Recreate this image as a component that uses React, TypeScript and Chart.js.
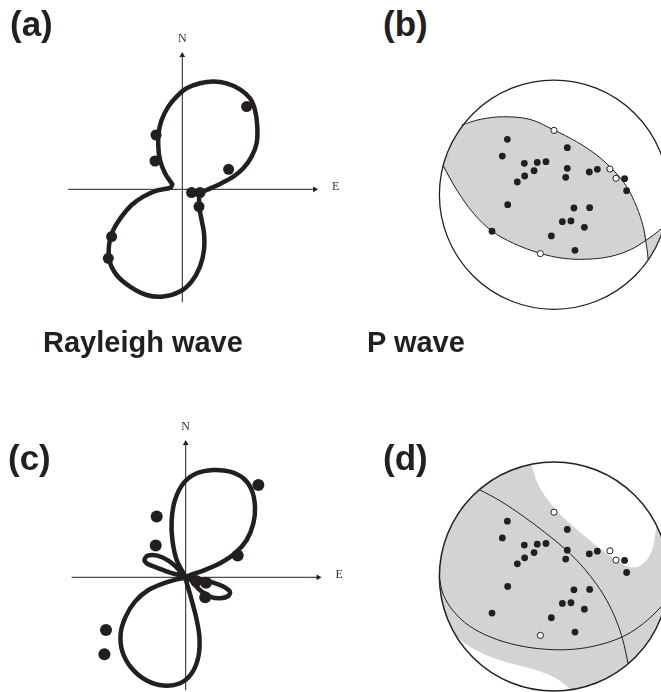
import React, { useEffect, useRef } from 'react';
import { Chart, registerables } from 'chart.js';

Chart.register(...registerables);

const INK = '#231f20';
const SHADE = '#d1d3d4';

type Pt = [number, number];

// ---------------- DATA ----------------
// (a) Rayleigh-wave radiation pattern, model 1 (East, North; normalised amplitude)
const rayleighModelA: Pt[] = [
  [-0.10, 0.05], [-0.173, 0.16], [-0.223, 0.293], [-0.24, 0.427], [-0.237, 0.56], [-0.207, 0.693],
  [-0.14, 0.827], [-0.057, 0.927], [0.043, 1.01], [0.177, 1.06], [0.31, 1.077], [0.443, 1.06],
  [0.577, 1.0], [0.677, 0.91], [0.727, 0.793], [0.75, 0.627], [0.743, 0.46], [0.693, 0.327],
  [0.61, 0.21], [0.51, 0.127], [0.377, 0.053], [0.243, -0.007], [0.177, -0.04], [0.17, -0.173],
  [0.193, -0.307], [0.217, -0.44], [0.217, -0.607], [0.177, -0.773], [0.093, -0.923], [-0.023, -1.023],
  [-0.19, -1.073], [-0.357, -1.057], [-0.523, -0.973], [-0.657, -0.857], [-0.73, -0.707], [-0.73, -0.54],
  [-0.69, -0.407], [-0.607, -0.273], [-0.507, -0.157], [-0.39, -0.073], [-0.257, -0.013], [-0.117, 0.017],
  [-0.10, 0.05],
];
const rayleighObsA: Pt[] = [
  [0.643, 0.827], [-0.263, 0.543], [-0.273, 0.283], [0.463, 0.20], [0.093, -0.033],
  [0.177, -0.033], [0.167, -0.173], [-0.707, -0.473], [-0.74, -0.69],
];

// (c) Rayleigh-wave radiation pattern, model 2
const rayleighModelC: Pt[] = [
  [0, 0],
  [-0.09, 0.173], [-0.133, 0.373], [-0.14, 0.573], [-0.107, 0.773], [-0.023, 0.94], [0.11, 1.04],
  [0.277, 1.073], [0.443, 1.057], [0.577, 0.99], [0.66, 0.873], [0.693, 0.707], [0.677, 0.54],
  [0.61, 0.373], [0.493, 0.24], [0.343, 0.14], [0.177, 0.067], [0.043, 0.023],
  [0, 0],
  [0.077, -0.01], [0.176, -0.027], [0.276, -0.053], [0.376, -0.093], [0.443, -0.144], [0.426, -0.187],
  [0.343, -0.21], [0.243, -0.193], [0.16, -0.143], [0.093, -0.077], [0.043, -0.02],
  [0, 0],
  [0.05, -0.193], [0.103, -0.393], [0.137, -0.593], [0.127, -0.793], [0.06, -0.96], [-0.057, -1.06],
  [-0.223, -1.083], [-0.39, -1.033], [-0.54, -0.91], [-0.633, -0.743], [-0.65, -0.56], [-0.60, -0.393],
  [-0.507, -0.243], [-0.373, -0.127], [-0.223, -0.06], [-0.09, -0.02],
  [0, 0],
  [-0.157, 0.047], [-0.29, 0.097], [-0.38, 0.133], [-0.413, 0.173], [-0.38, 0.217], [-0.283, 0.217],
  [-0.173, 0.167], [-0.083, 0.09], [-0.03, 0.02],
  [0, 0],
];
const rayleighObsC: Pt[] = [
  [0.727, 0.923], [-0.29, 0.607], [-0.30, 0.317], [0.52, 0.217], [0.104, -0.037],
  [0.203, -0.055], [0.195, -0.20], [-0.797, -0.527], [-0.813, -0.77],
];

// (b),(d) P-wave first motions on the focal sphere (unit radius)
const pCompression: Pt[] = [
  [-0.407, 0.483], [-0.451, 0.337], [-0.259, 0.274], [-0.146, 0.282], [-0.070, 0.288], [0.116, 0.410],
  [0.116, 0.230], [0.102, 0.152], [-0.174, 0.209], [-0.256, 0.163], [-0.320, 0.111], [0.308, 0.198],
  [0.378, 0.221], [0.616, 0.140], [0.634, 0.035], [-0.404, -0.087], [0.174, -0.116], [0.311, -0.113],
  [0.073, -0.235], [0.148, -0.229], [0.265, -0.285], [-0.023, -0.360], [0.183, -0.485], [-0.541, -0.319],
];
const pDilatation: Pt[] = [[0.0, 0.561], [0.488, 0.224], [0.541, 0.143], [-0.119, -0.514]];

// (b) nodal planes
const planeB1: Pt[] = [
  [-0.805, 0.608], [-0.645, 0.657], [-0.442, 0.680], [-0.209, 0.657], [0.0, 0.564], [0.198, 0.462],
  [0.372, 0.346], [0.517, 0.215], [0.634, 0.070], [0.721, -0.105], [0.779, -0.279], [0.800, -0.400],
  [0.815, -0.500], [0.822, -0.569],
];
const planeB2: Pt[] = [
  [-0.970, 0.259], [-0.848, 0.041], [-0.703, -0.162], [-0.543, -0.316], [-0.355, -0.424], [-0.122, -0.511],
  [0.081, -0.555], [0.285, -0.563], [0.488, -0.540], [0.663, -0.482], [0.800, -0.400], [0.924, -0.308],
  [0.965, -0.262],
];
const rimB1: Pt[] = [[-0.912, 0.399], [-0.860, 0.503]];
const rimB2: Pt[] = [[0.930, -0.359], [0.892, -0.445], [0.852, -0.518]];

// (d) nodal planes and dilatational (white) regions
const planeD1: Pt[] = [
  [-0.655, 0.760], [-0.47, 0.66], [-0.26, 0.52], [-0.08, 0.385], [0.08, 0.255], [0.21, 0.13],
  [0.32, 0.0], [0.42, -0.14], [0.50, -0.285], [0.565, -0.44], [0.61, -0.59], [0.645, -0.755],
];
const planeD2: Pt[] = [
  [-1.0, -0.016], [-0.965, -0.16], [-0.88, -0.30], [-0.74, -0.43], [-0.55, -0.53], [-0.32, -0.60],
  [-0.07, -0.635], [0.17, -0.635], [0.40, -0.595], [0.61, -0.52], [0.78, -0.41], [0.925, -0.275],
  [0.975, -0.215],
];
const dilatationD1: Pt[] = [
  [-0.232, 1.004], [0.0, 1.03], [0.267, 0.995], [0.515, 0.892], [0.728, 0.728], [0.892, 0.515],
  [0.882, 0.362], [0.856, 0.232], [0.803, 0.135], [0.725, 0.083], [0.629, 0.092], [0.515, 0.162],
  [0.384, 0.258], [0.245, 0.371], [0.114, 0.485], [0.009, 0.590], [-0.079, 0.703], [-0.148, 0.825],
  [-0.183, 0.930], [-0.205, 1.0], [-0.232, 1.004],
];
const dilatationD2: Pt[] = [
  [-0.850, -0.526], [-0.734, -0.613], [-0.559, -0.700], [-0.355, -0.764], [-0.151, -0.817],
  [-0.006, -0.875], [0.081, -0.933], [0.140, -0.985], [0.143, -1.03], [-0.090, -1.03],
  [-0.352, -0.968], [-0.591, -0.844], [-0.789, -0.662], [-0.89, -0.535], [-0.850, -0.526],
];

// axis extents of the polar plots
const axisEast: Pt = [-1.14, 1.325];
const axisNorth: Pt = [-1.13, 1.34];

// ---------------- LAYOUT ----------------
type Panel = { left: number; top: number; width: number; height: number; ox: number; oy: number; unit: number };
const BALL_PX = 114.6;
const panelA: Panel = { left: 40, top: 20, width: 305, height: 300, ox: 182.3, oy: 189.3, unit: 100 };
const panelB: Panel = { left: 420, top: 60, width: 241, height: 270, ox: 554, oy: 194.7, unit: BALL_PX };
const panelC: Panel = { left: 40, top: 405, width: 305, height: 287, ox: 185.7, oy: 577.3, unit: 100 };
const panelD: Panel = { left: 420, top: 445, width: 241, height: 247, ox: 554, oy: 576.5, unit: BALL_PX };

const xy = (pts: Pt[]) => pts.map(([x, y]) => ({ x, y }));

function baseOptions(p: Panel): any {
  return {
    responsive: false,
    animation: false,
    events: [],
    layout: { padding: 0, autoPadding: false },
    scales: {
      x: { type: 'linear', display: false, min: (p.left - p.ox) / p.unit, max: (p.left + p.width - p.ox) / p.unit },
      y: { type: 'linear', display: false, min: (p.oy - (p.top + p.height)) / p.unit, max: (p.oy - p.top) / p.unit },
    },
    plugins: { legend: { display: false }, tooltip: { enabled: false }, title: { display: false } },
  };
}

function polarConfig(p: Panel, model: Pt[], obs: Pt[], dotR: number): any {
  return {
    type: 'scatter',
    data: {
      datasets: [
        {
          label: 'model', data: xy(model), showLine: true, borderColor: INK, borderWidth: 4.5,
          borderCapStyle: 'round', borderJoinStyle: 'round', tension: 0.3, pointRadius: 0, fill: false, order: 3,
        },
        {
          label: 'observed', data: xy(obs), showLine: false, pointRadius: dotR,
          pointBackgroundColor: INK, pointBorderWidth: 0, order: 1,
        },
        {
          label: 'E', data: [{ x: axisEast[0], y: 0 }, { x: axisEast[1], y: 0 }], showLine: true,
          borderColor: INK, borderWidth: 1, pointRadius: [0, 3.3], pointStyle: 'triangle', pointRotation: [0, 90],
          pointBackgroundColor: INK, pointBorderWidth: 0, fill: false, order: 5,
        },
        {
          label: 'N', data: [{ x: 0, y: axisNorth[0] }, { x: 0, y: axisNorth[1] }], showLine: true,
          borderColor: INK, borderWidth: 1, pointRadius: [0, 3.3], pointStyle: 'triangle', pointRotation: [0, 0],
          pointBackgroundColor: INK, pointBorderWidth: 0, fill: false, order: 5,
        },
      ],
    },
    options: baseOptions(p),
  };
}

const region = (label: string, pts: Pt[], color: string, order: number) => ({
  label, data: xy(pts), showLine: true, fill: 'shape', backgroundColor: color,
  borderColor: 'rgba(0,0,0,0)', borderWidth: 0, pointRadius: 0, tension: 0.3, order,
});
const plane = (label: string, pts: Pt[]) => ({
  label, data: xy(pts), showLine: true, fill: false, borderColor: INK, borderWidth: 1,
  pointRadius: 0, tension: 0.35, order: 6,
});
const sphere = (fillColor: string, lineW: number, order: number) => ({
  label: 'sphere', data: [{ x: 0, y: 0 }], showLine: false, pointRadius: BALL_PX,
  pointBackgroundColor: fillColor, pointBorderColor: INK, pointBorderWidth: lineW, order,
});
const motions = () => [
  {
    label: 'compression', data: xy(pCompression), showLine: false, pointRadius: 3.4,
    pointBackgroundColor: INK, pointBorderWidth: 0, order: 2,
  },
  {
    label: 'dilatation', data: xy(pDilatation), showLine: false, pointRadius: 3.1,
    pointBackgroundColor: '#ffffff', pointBorderColor: INK, pointBorderWidth: 1, order: 1,
  },
];

function ballBConfig(): any {
  const lens = [...planeB1.slice(0, 12), ...planeB2.slice(0, 10).reverse(), ...rimB1, planeB1[0]];
  const wedge = [...planeB2.slice(10), ...rimB2, ...planeB1.slice(11).reverse()];
  return {
    type: 'scatter',
    data: {
      datasets: [
        region('compressional quadrant', lens, SHADE, 10),
        region('compressional quadrant 2', wedge, SHADE, 10),
        plane('nodal plane 1', planeB1),
        plane('nodal plane 2', planeB2),
        sphere('rgba(0,0,0,0)', 1.3, 4),
        ...motions(),
      ],
    },
    options: baseOptions(panelB),
  };
}

function ballDConfig(): any {
  return {
    type: 'scatter',
    data: {
      datasets: [
        sphere(SHADE, 0, 12),
        region('dilatational region 1', dilatationD1, '#ffffff', 11),
        region('dilatational region 2', dilatationD2, '#ffffff', 11),
        plane('nodal plane 1', planeD1),
        plane('nodal plane 2', planeD2),
        sphere('rgba(0,0,0,0)', 1.5, 4),
        ...motions(),
      ],
    },
    options: baseOptions(panelD),
  };
}

// ---------------- TEXT ----------------
type LabelProps = { x: number; baseline: number; size: number; text: string; serif?: boolean; bold?: boolean; center?: boolean; color?: string };
function Label({ x, baseline, size, text, serif, bold, center, color }: LabelProps) {
  const asc = serif ? 0.891 : 0.905;
  const desc = serif ? 0.216 : 0.212;
  const top = baseline - (size * (1 - (asc + desc)) / 2 + size * asc);
  return (
    <div
      style={{
        position: 'absolute', left: x, top, fontSize: size, lineHeight: `${size}px`, whiteSpace: 'nowrap',
        fontFamily: serif ? '"Liberation Serif", "DejaVu Serif", serif' : '"Liberation Sans", Arial, sans-serif',
        fontWeight: bold ? 700 : 400, color: color || INK, transform: center ? 'translateX(-50%)' : undefined,
      }}
    >
      {text}
    </div>
  );
}

const panels = [panelA, panelB, panelC, panelD];

export default function App() {
  const r0 = useRef<HTMLCanvasElement | null>(null);
  const r1 = useRef<HTMLCanvasElement | null>(null);
  const r2 = useRef<HTMLCanvasElement | null>(null);
  const r3 = useRef<HTMLCanvasElement | null>(null);
  const refs = [r0, r1, r2, r3];

  useEffect(() => {
    const configs = [
      polarConfig(panelA, rayleighModelA, rayleighObsA, 5.5),
      ballBConfig(),
      polarConfig(panelC, rayleighModelC, rayleighObsC, 6),
      ballDConfig(),
    ];
    const charts = configs.map((cfg, i) => new Chart(refs[i].current as HTMLCanvasElement, cfg));
    return () => charts.forEach((c) => c.destroy());
  }, []);

  return (
    <div style={{ position: 'absolute', left: 0, top: 0, width: 661, height: 692, overflow: 'hidden', background: '#ffffff' }}>
      {panels.map((p, i) => (
        <canvas
          key={i}
          ref={refs[i]}
          width={p.width}
          height={p.height}
          style={{ position: 'absolute', left: p.left, top: p.top, width: p.width, height: p.height, display: 'block' }}
        />
      ))}
      <Label x={182.3} baseline={42} size={12} text="N" serif center color="#333" />
      <Label x={332} baseline={190} size={12} text="E" serif color="#333" />
      <Label x={185.7} baseline={430} size={12} text="N" serif center color="#333" />
      <Label x={335.5} baseline={578} size={12} text="E" serif color="#333" />
      <Label x={10} baseline={35.5} size={35} text="(a)" bold />
      <Label x={383} baseline={35.5} size={35} text="(b)" bold />
      <Label x={8} baseline={470} size={35} text="(c)" bold />
      <Label x={383} baseline={469.5} size={35} text="(d)" bold />
      <Label x={43} baseline={353} size={29} text="Rayleigh wave" bold />
      <Label x={367} baseline={353} size={29} text="P wave" bold />
    </div>
  );
}
